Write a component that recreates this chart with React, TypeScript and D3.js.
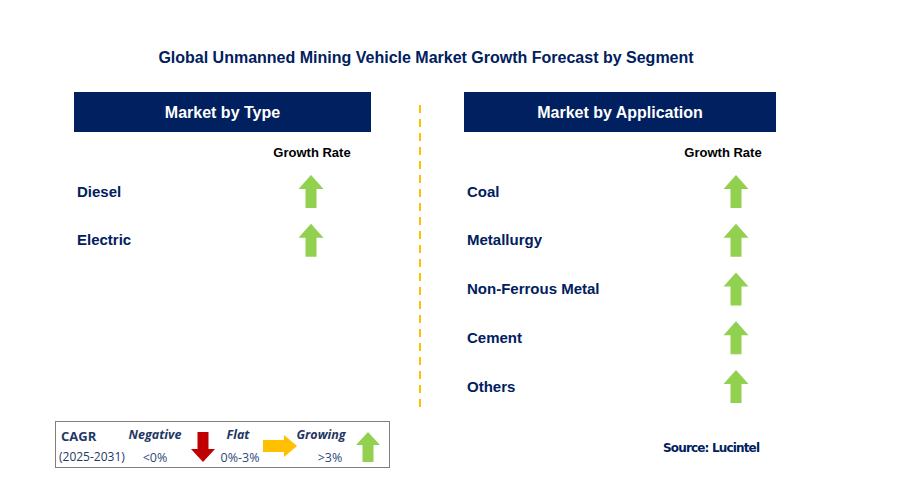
import React from "react";
import * as d3 from "d3";

const TITLE = "Global Unmanned Mining Vehicle Market Growth Forecast by Segment";
const typeSegments = ["Diesel", "Electric"];
const typeGrowth = ["up", "up"];
const appSegments = ["Coal", "Metallurgy", "Non-Ferrous Metal", "Cement", "Others"];
const appGrowth = ["up", "up", "up", "up", "up"];
const panelTitles = ["Market by Type", "Market by Application"];
const legendLabels = ["Negative", "Flat", "Growing"];
const legendRanges = ["<0%", "0%-3%", ">3%"];

const NAVY = "#002060";
const GREEN = "#92d050";
const RED = "#c00000";
const YELLOW = "#ffc000";
const FONT = "'Liberation Sans', Arial, sans-serif";
const LFONT = "'Open Sans', sans-serif";

function upArrow(cx: number, top: number, h: number, w: number, shaft: number, head: number) {
  const p = d3.path();
  p.moveTo(cx, top);
  p.lineTo(cx + w / 2, top + head);
  p.lineTo(cx + shaft / 2, top + head);
  p.lineTo(cx + shaft / 2, top + h);
  p.lineTo(cx - shaft / 2, top + h);
  p.lineTo(cx - shaft / 2, top + head);
  p.lineTo(cx - w / 2, top + head);
  p.closePath();
  return p.toString();
}
function downArrow(cx: number, top: number, h: number, w: number, shaft: number, head: number) {
  const p = d3.path();
  p.moveTo(cx - shaft / 2, top);
  p.lineTo(cx + shaft / 2, top);
  p.lineTo(cx + shaft / 2, top + h - head);
  p.lineTo(cx + w / 2, top + h - head);
  p.lineTo(cx, top + h);
  p.lineTo(cx - w / 2, top + h - head);
  p.lineTo(cx - shaft / 2, top + h - head);
  p.closePath();
  return p.toString();
}
function rightArrow(left: number, cy: number, len: number, hgt: number, shaft: number, head: number) {
  const p = d3.path();
  p.moveTo(left, cy - shaft / 2);
  p.lineTo(left + len - head, cy - shaft / 2);
  p.lineTo(left + len - head, cy - hgt / 2);
  p.lineTo(left + len, cy);
  p.lineTo(left + len - head, cy + hgt / 2);
  p.lineTo(left + len - head, cy + shaft / 2);
  p.lineTo(left, cy + shaft / 2);
  p.closePath();
  return p.toString();
}

function arrowFor(dir: string, cx: number, cy: number) {
  if (dir === "up") return <path d={upArrow(cx, cy - 16, 33, 25, 11, 14)} fill={GREEN} />;
  if (dir === "down") return <path d={downArrow(cx, cy - 16, 33, 25, 11, 14)} fill={RED} />;
  return <path d={rightArrow(cx - 17, cy, 34, 22, 11, 14)} fill={YELLOW} />;
}

export default function App() {
  const W = 904, H = 496;
  const rowY = d3.scaleLinear().domain([0, 4]).range([191, 386]);
  const panels = [
    { x0: 74, x1: 371, labelX: 77, arrowX: 311, grX: 312, segs: typeSegments, growth: typeGrowth },
    { x0: 464, x1: 776, labelX: 467, arrowX: 736, grX: 723, segs: appSegments, growth: appGrowth },
  ];
  const legendX = d3.scalePoint<string>().domain(legendLabels).range([155, 321]);
  const legendArrowX = [203, 280, 368];
  const legendDirs = ["down", "flat", "up"];
  const rangeX = [155, 240, 330];

  return (
    <svg width={W} height={H} style={{ position: "absolute", left: 0, top: 0, background: "#fff" }}>
      <rect width={W} height={H} fill="#fff" />
      <text x={426} y={63} textAnchor="middle" fontFamily={FONT} fontWeight="bold" fontSize={16} fill={NAVY}>
        {TITLE}
      </text>
      <line x1={420} x2={420} y1={105} y2={410} stroke={YELLOW} strokeWidth={2} strokeDasharray="8,6" />
      {panels.map((p, i) => (
        <g key={i}>
          <rect x={p.x0} y={92} width={p.x1 - p.x0} height={40} fill={NAVY} />
          <text x={(p.x0 + p.x1) / 2} y={118} textAnchor="middle" fontFamily={FONT} fontWeight="bold" fontSize={16} fill="#fff">
            {panelTitles[i]}
          </text>
          <text x={p.grX} y={157} textAnchor="middle" fontFamily={FONT} fontWeight="bold" fontSize={13} fill="#000">
            Growth Rate
          </text>
          {p.segs.map((s, j) => (
            <g key={s}>
              <text x={p.labelX} y={rowY(j) + 5.5} fontFamily={FONT} fontWeight="bold" fontSize={15} fill={NAVY}>
                {s}
              </text>
              {arrowFor(p.growth[j], p.arrowX, rowY(j))}
            </g>
          ))}
        </g>
      ))}
      <g>
        <rect x={55.5} y={421.5} width={334} height={46} fill="#fff" stroke="#7f7f7f" strokeWidth={1} />
        <text x={61} y={441} fontFamily={LFONT} fontWeight="bold" fontSize={13} fill="#1f3864">CAGR</text>
        <text x={59} y={461} fontFamily={LFONT} fontSize={12} fill="#1f3864">(2025-2031)</text>
        {legendLabels.map((l, i) => (
          <g key={l}>
            <text x={legendX(l)} y={439} textAnchor="middle" fontFamily={LFONT} fontStyle="italic" fontWeight="bold" fontSize={12.5} fill="#1f3864">
              {l}
            </text>
            <text x={rangeX[i]} y={462} textAnchor="middle" fontFamily={LFONT} fontSize={12.5} fill="#2f4a7a">
              {legendRanges[i]}
            </text>
            {legendDirs[i] === "down" && <path d={downArrow(legendArrowX[i], 432, 30, 24, 11, 13)} fill={RED} />}
            {legendDirs[i] === "flat" && <path d={rightArrow(263, 446, 34, 22, 12, 13)} fill={YELLOW} />}
            {legendDirs[i] === "up" && <path d={upArrow(legendArrowX[i], 432, 30, 24, 11, 13)} fill={GREEN} />}
          </g>
        ))}
      </g>
      <text x={663} y={452} fontFamily="'DejaVu Sans', sans-serif" fontWeight="bold" fontSize={12} fill={NAVY} textLength={97}>
        Source: Lucintel
      </text>
    </svg>
  );
}
